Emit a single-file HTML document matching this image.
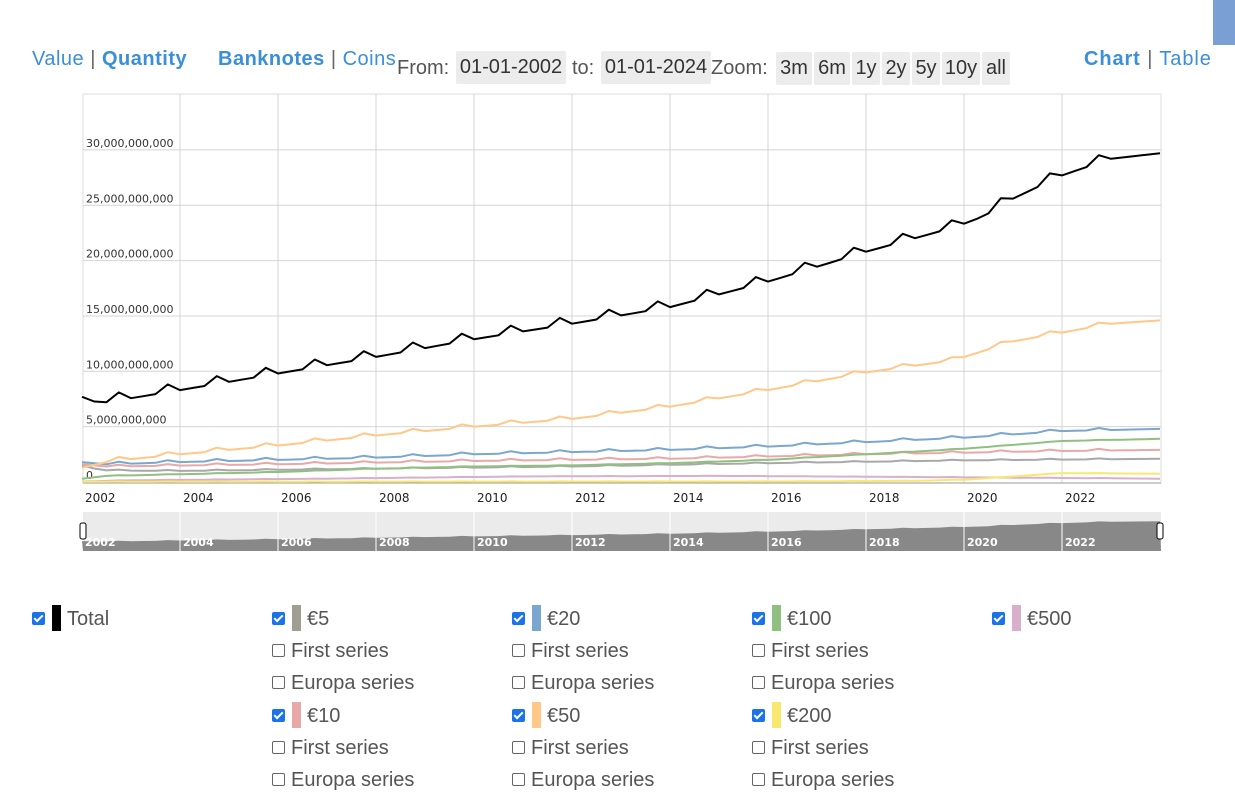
<!DOCTYPE html>
<html><head><meta charset="utf-8"><style>
body{margin:0;width:1235px;height:809px;background:#fff;font-family:"Liberation Sans",sans-serif;position:relative;overflow:hidden}
.a{position:absolute;white-space:nowrap}
.lnk{color:#3a8fd6;font-size:20px;letter-spacing:0.5px}
.b{font-weight:bold}
.sep{color:#666}
.g{color:#555;font-size:20px}
.btn{position:absolute;background:#ececec;color:#333;font-size:20px;height:33px;line-height:33px;text-align:center;border-radius:2px}
.cb{position:absolute;width:11px;height:11px;border:1px solid #666;border-radius:2px;background:#fff}
.cb.on{background:#1a73e8;border-color:#1a73e8}
.cb.on:after{content:"";position:absolute;left:3px;top:0px;width:3px;height:7px;border:solid #fff;border-width:0 2px 2px 0;transform:rotate(45deg)}
.sw{position:absolute;width:9px;height:26px}
.lt{position:absolute;font-size:20px;color:#555}
</style></head><body>
<div class="a lnk" style="left:32px;top:48px">Value <span class="sep">|</span> <span class="b">Quantity</span></div>
<div class="a lnk" style="left:218px;top:48px"><span class="b">Banknotes</span> <span class="sep">|</span> Coins</div>
<div class="a g" style="left:397px;top:57px">From:</div>
<div class="btn" style="left:456px;top:51px;width:110px">01-01-2002</div>
<div class="a g" style="left:572px;top:57px">to:</div>
<div class="btn" style="left:601px;top:51px;width:110px">01-01-2024</div>
<div class="a g" style="left:711px;top:57px">Zoom:</div>
<div class="btn" style="left:776px;top:52px;width:36px">3m</div>
<div class="btn" style="left:814px;top:52px;width:36px">6m</div>
<div class="btn" style="left:852px;top:52px;width:28px">1y</div>
<div class="btn" style="left:882px;top:52px;width:28px">2y</div>
<div class="btn" style="left:912px;top:52px;width:28px">5y</div>
<div class="btn" style="left:942px;top:52px;width:38px">10y</div>
<div class="btn" style="left:982px;top:52px;width:28px">all</div>
<div class="a lnk" style="left:1084px;top:48px;letter-spacing:0.9px"><span class="b">Chart</span> <span class="sep">|</span> Table</div>
<div class="a" style="left:1213px;top:0;width:22px;height:45px;background:#7a9fd4"></div>
<svg class="a" style="left:0;top:0" width="1235" height="600" id="s"></svg>
<div id="leg"></div>
<script>
var s=document.getElementById('s'),h='';
var X0=82,PX=49,Y0=482,PY=11.07;
function X(t){return X0+(t-2002)*PX}
function Y(v){return Y0-v*PY}
h+='<rect x="83" y="94" width="1078" height="389" fill="#fff" stroke="#ddd"/>';
for(var yr=2004;yr<=2022;yr+=2){var x=X(yr);h+='<line x1="'+x+'" y1="94" x2="'+x+'" y2="483" stroke="#d4d4d4"/>';}
var labs=['0','5,000,000,000','10,000,000,000','15,000,000,000','20,000,000,000','25,000,000,000','30,000,000,000'];
for(var i=0;i<=6;i++){var y=Y(i*5);if(i>0)h+='<line x1="83" y1="'+y+'" x2="1161" y2="'+y+'" stroke="#d4d4d4"/>';h+='<text x="86" y="'+(y-3)+'" font-size="11" font-family="DejaVu Sans,sans-serif" fill="#333">'+labs[i]+'</text>';}
h+='<line x1="83" y1="483" x2="1161" y2="483" stroke="#999"/>';
for(var yr=2002;yr<=2022;yr+=2){h+='<text x="'+(X(yr)+3)+'" y="502" font-size="12" font-family="DejaVu Sans,sans-serif" fill="#222">'+yr+'</text>';}
function interp(k,t){for(var i=0;i<k.length-1;i++){if(t>=k[i][0]&&t<=k[i+1][0]){var f=(t-k[i][0])/(k[i+1][0]-k[i][0]);return k[i][1]+f*(k[i+1][1]-k[i][1]);}}return k[k.length-1][1];}
var ser=[
{c:'#a8a8a8',k:[[2002,1.5],[2002.4,1.05],[2004,1.0],[2008,1.2],[2012,1.4],[2016,1.7],[2020,1.95],[2024,2.1]],sp:0.08},
{c:'#e8a8a8',k:[[2002,1.6],[2002.5,1.4],[2006,1.6],[2010,1.9],[2014,2.1],[2018,2.5],[2022,2.8],[2024,2.9]],sp:0.15},
{c:'#d8b0cc',k:[[2002,0.05],[2003,0.15],[2007,0.3],[2011,0.5],[2015,0.55],[2019,0.45],[2024,0.3]],sp:0.02},
{c:'#f8e870',k:[[2002,0.02],[2016,0.05],[2019,0.1],[2020,0.2],[2021,0.5],[2022,0.8],[2024,0.75]],sp:0.02},
{c:'#90c080',k:[[2002,0.3],[2002.5,0.55],[2004,0.7],[2006,0.9],[2008,1.2],[2010,1.4],[2012,1.5],[2014,1.7],[2016,2.0],[2018,2.5],[2020,3.0],[2022,3.7],[2024,3.9]],sp:0.03},
{c:'#7aa6d0',k:[[2002,1.8],[2002.5,1.6],[2004,1.8],[2006,2.0],[2008,2.2],[2010,2.5],[2012,2.7],[2014,2.9],[2016,3.2],[2018,3.6],[2020,4.0],[2022,4.6],[2024,4.8]],sp:0.2},
{c:'#ffc888',k:[[2002,1.3],[2002.6,1.9],[2004,2.5],[2006,3.3],[2008,4.2],[2010,5.0],[2012,5.7],[2014,6.8],[2016,8.3],[2018,9.9],[2019.8,11.0],[2021,12.7],[2022,13.5],[2023,14.3],[2024,14.6]],sp:0.3},
{c:'#000',k:[[2002,7.7],[2002.35,7.1],[2004,8.3],[2006,9.8],[2008,11.3],[2010,12.9],[2012,14.3],[2014,15.8],[2016,18.1],[2018,20.8],[2019.8,23.0],[2020.4,24.0],[2021,25.6],[2022,27.7],[2023,29.2],[2024,29.7]],sp:0.7,w:2}
];
var tot=ser[7];
ser.forEach(function(o){var p=[];for(var q=0;q<=88;q++){var t=2002+q/4;var v=interp(o.k,t);if(q%4==3&&q<87)v+=o.sp;p.push(X(t).toFixed(1)+','+Y(v).toFixed(1));}
h+='<polyline points="'+p.join(' ')+'" fill="none" stroke="'+o.c+'" stroke-width="'+(o.w||2)+'" stroke-linejoin="round"/>';});
h+='<rect x="83" y="512" width="1078" height="39" fill="#ebebeb"/>';
var p=['83,551'];for(var q=0;q<=88;q++){var t=2002+q/4;var v=interp(tot.k,t);if(q%4==3&&q<87)v+=tot.sp;p.push(X(t).toFixed(1)+','+(551-3-v*0.9).toFixed(1));}p.push('1161,551');
h+='<polygon points="'+p.join(' ')+'" fill="#888"/>';
for(var yr=2004;yr<=2022;yr+=2){var x=X(yr);h+='<line x1="'+x+'" y1="512" x2="'+x+'" y2="551" stroke="#fff"/>';}
for(var yr=2002;yr<=2022;yr+=2){h+='<text x="'+(X(yr)+3)+'" y="546" font-size="11" font-weight="bold" font-family="DejaVu Sans,sans-serif" fill="#fff">'+yr+'</text>';}
h+='<rect x="80" y="523" width="6" height="16" rx="2" fill="#fff" stroke="#000"/><rect x="1157" y="523" width="6" height="16" rx="2" fill="#fff" stroke="#000"/>';
s.innerHTML=h;
var L='',rows=[618,650,682,715,747,779];
function item(x,y,on,col,txt){L+='<div class="cb'+(on?' on':'')+'" style="left:'+(x-6)+'px;top:'+(y-6)+'px"></div>';var tx=x+13;if(col){L+='<div class="sw" style="left:'+(x+14)+'px;top:'+(y-13)+'px;background:'+col+'"></div>';tx=x+29;}L+='<div class="lt" style="left:'+tx+'px;top:'+(y-10)+'px">'+txt+'</div>';}
item(38,618,1,'#000','Total');
var cols=[[278,'#a09e90','€5','#e8a8a8','€10'],[518,'#7aa6d0','€20','#ffc888','€50'],[758,'#90c080','€100','#f8e870','€200']];
cols.forEach(function(c){item(c[0],rows[0],1,c[1],c[2]);item(c[0],rows[1],0,null,'First series');item(c[0],rows[2],0,null,'Europa series');item(c[0],rows[3],1,c[3],c[4]);item(c[0],rows[4],0,null,'First series');item(c[0],rows[5],0,null,'Europa series');});
item(998,618,1,'#d8b0cc','€500');
document.getElementById('leg').innerHTML=L;
</script>
</body></html>
